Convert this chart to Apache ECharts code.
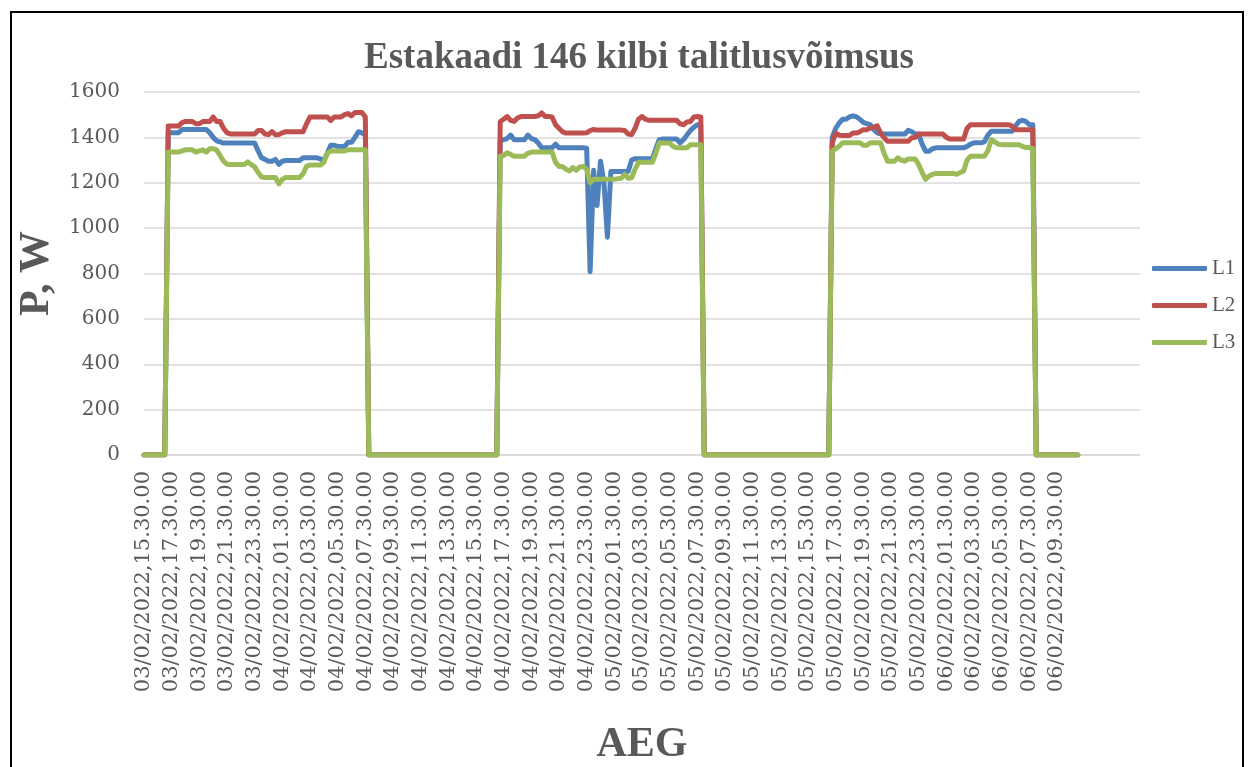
<!DOCTYPE html>
<html>
<head>
<meta charset="utf-8">
<title>Estakaadi 146 kilbi talitlusvõimsus</title>
<script src="https://cdn.jsdelivr.net/npm/echarts@6/dist/echarts.min.js"></script>
<style>
  html, body { margin: 0; padding: 0; background: #fff; }
  #chart { width: 1248px; height: 767px; }
</style>
</head>
<body>
<div id="chart"></div>
<script>
// 15 minute samples from 03/02/2022 15:30, one row per 2 hours
const L1 = [
  0, 0, 0, 0, 0, 0, 0, 1420,
  1420, 1420, 1420, 1435, 1435, 1435, 1435, 1435,
  1435, 1435, 1435, 1420, 1400, 1385, 1380, 1375,
  1375, 1375, 1375, 1375, 1375, 1375, 1375, 1375,
  1375, 1340, 1310, 1303, 1295, 1295, 1303, 1281,
  1295, 1298, 1298, 1298, 1298, 1298, 1310, 1310,
  1310, 1310, 1310, 1305, 1298, 1330, 1365, 1365,
  1360, 1360, 1360, 1378, 1378, 1400, 1425, 1420,
  1410, 0, 0, 0, 0, 0, 0, 0,
  0, 0, 0, 0, 0, 0, 0, 0,
  0, 0, 0, 0, 0, 0, 0, 0,
  0, 0, 0, 0, 0, 0, 0, 0,
  0, 0, 0, 0, 0, 0, 0, 1385,
  1390, 1395, 1410, 1390, 1390, 1390, 1390, 1410,
  1395, 1390, 1375, 1354, 1354, 1354, 1354, 1370,
  1354, 1354, 1354, 1354, 1354, 1354, 1354, 1354,
  1352, 808, 1255, 1100, 1295, 1200, 960, 1250,
  1250, 1250, 1250, 1250, 1250, 1300, 1306, 1306,
  1306, 1306, 1306, 1306, 1350, 1390, 1393, 1393,
  1393, 1393, 1393, 1376, 1390, 1410, 1430, 1445,
  1456, 1456, 0, 0, 0, 0, 0, 0,
  0, 0, 0, 0, 0, 0, 0, 0,
  0, 0, 0, 0, 0, 0, 0, 0,
  0, 0, 0, 0, 0, 0, 0, 0,
  0, 0, 0, 0, 0, 0, 0, 1400,
  1440, 1463, 1480, 1480, 1490, 1495, 1490, 1480,
  1466, 1460, 1456, 1435, 1420, 1415, 1415, 1415,
  1415, 1415, 1415, 1415, 1415, 1431, 1425, 1415,
  1415, 1370, 1339, 1339, 1350, 1354, 1354, 1354,
  1354, 1354, 1354, 1354, 1354, 1354, 1360, 1370,
  1376, 1376, 1376, 1380, 1410, 1427, 1427, 1427,
  1427, 1427, 1427, 1427, 1450, 1470, 1475, 1470,
  1456, 1456, 0, 0, 0, 0, 0, 0,
  0, 0, 0, 0, 0, 0, 0
];
const L2 = [
  0, 0, 0, 0, 0, 0, 0, 1450,
  1450, 1450, 1450, 1465, 1470, 1470, 1470, 1460,
  1460, 1470, 1470, 1470, 1490, 1470, 1470, 1440,
  1420, 1415, 1415, 1415, 1415, 1415, 1415, 1415,
  1415, 1430, 1430, 1415, 1412, 1425, 1412, 1412,
  1420, 1425, 1425, 1425, 1425, 1425, 1425, 1460,
  1490, 1490, 1490, 1490, 1490, 1490, 1475, 1490,
  1490, 1490, 1500, 1505, 1495, 1510, 1510, 1510,
  1490, 0, 0, 0, 0, 0, 0, 0,
  0, 0, 0, 0, 0, 0, 0, 0,
  0, 0, 0, 0, 0, 0, 0, 0,
  0, 0, 0, 0, 0, 0, 0, 0,
  0, 0, 0, 0, 0, 0, 0, 1470,
  1480, 1492, 1475, 1470, 1485, 1492, 1492, 1492,
  1492, 1492, 1495, 1508, 1492, 1492, 1490, 1456,
  1440, 1425, 1419, 1419, 1419, 1419, 1419, 1419,
  1420, 1430, 1435, 1432, 1432, 1432, 1432, 1432,
  1432, 1432, 1432, 1430, 1415, 1412, 1440, 1480,
  1492, 1480, 1475, 1475, 1475, 1475, 1475, 1475,
  1475, 1475, 1475, 1460, 1456, 1468, 1470, 1490,
  1492, 1490, 0, 0, 0, 0, 0, 0,
  0, 0, 0, 0, 0, 0, 0, 0,
  0, 0, 0, 0, 0, 0, 0, 0,
  0, 0, 0, 0, 0, 0, 0, 0,
  0, 0, 0, 0, 0, 0, 0, 1376,
  1419, 1410, 1408, 1408, 1408, 1419, 1419, 1425,
  1434, 1434, 1441, 1445, 1451, 1420, 1398, 1383,
  1383, 1383, 1383, 1383, 1383, 1383, 1398, 1400,
  1415, 1415, 1415, 1415, 1415, 1415, 1415, 1415,
  1400, 1393, 1393, 1393, 1393, 1393, 1440, 1456,
  1456, 1456, 1456, 1456, 1456, 1456, 1456, 1456,
  1456, 1456, 1456, 1450, 1434, 1434, 1434, 1434,
  1434, 1434, 0, 0, 0, 0, 0, 0,
  0, 0, 0, 0, 0, 0, 0
];
const L3 = [
  0, 0, 0, 0, 0, 0, 0, 1335,
  1335, 1335, 1335, 1340, 1345, 1345, 1345, 1335,
  1340, 1345, 1335, 1350, 1350, 1345, 1320, 1295,
  1282, 1280, 1280, 1280, 1280, 1280, 1292, 1280,
  1270, 1245, 1225, 1223, 1223, 1223, 1223, 1195,
  1215, 1223, 1223, 1223, 1223, 1223, 1240, 1273,
  1278, 1278, 1278, 1278, 1290, 1330, 1340, 1340,
  1340, 1340, 1340, 1345, 1345, 1345, 1345, 1345,
  1345, 0, 0, 0, 0, 0, 0, 0,
  0, 0, 0, 0, 0, 0, 0, 0,
  0, 0, 0, 0, 0, 0, 0, 0,
  0, 0, 0, 0, 0, 0, 0, 0,
  0, 0, 0, 0, 0, 0, 0, 1317,
  1320, 1332, 1325, 1317, 1317, 1317, 1317, 1330,
  1335, 1335, 1335, 1335, 1335, 1335, 1335, 1290,
  1272, 1272, 1260, 1252, 1267, 1255, 1270, 1272,
  1260, 1201, 1215, 1215, 1215, 1215, 1215, 1215,
  1215, 1218, 1220, 1237, 1220, 1222, 1260, 1290,
  1290, 1290, 1290, 1290, 1330, 1376, 1375, 1375,
  1375, 1360, 1354, 1354, 1354, 1354, 1368, 1368,
  1368, 1368, 0, 0, 0, 0, 0, 0,
  0, 0, 0, 0, 0, 0, 0, 0,
  0, 0, 0, 0, 0, 0, 0, 0,
  0, 0, 0, 0, 0, 0, 0, 0,
  0, 0, 0, 0, 0, 0, 0, 1340,
  1350, 1361, 1376, 1376, 1376, 1376, 1376, 1376,
  1365, 1365, 1376, 1376, 1376, 1376, 1330, 1295,
  1295, 1295, 1310, 1300, 1295, 1305, 1305, 1305,
  1280, 1245, 1215, 1230, 1237, 1241, 1241, 1241,
  1241, 1241, 1241, 1237, 1245, 1252, 1300, 1317,
  1317, 1317, 1317, 1317, 1340, 1390, 1380, 1370,
  1368, 1368, 1368, 1368, 1368, 1368, 1360, 1355,
  1355, 1350, 0, 0, 0, 0, 0, 0,
  0, 0, 0, 0, 0, 0, 0
];

// category axis: timestamps for the sampled rows, then empty rows up to the axis end
const CATEGORY_COUNT = 289;
const START = Date.UTC(2022, 1, 3, 15, 30, 0);
const STEP_MIN = 15;
const pad = (n) => String(n).padStart(2, "0");
const categories = [];
for (let i = 0; i < CATEGORY_COUNT; i++) {
  if (i >= L1.length) { categories.push(""); continue; }
  const d = new Date(START + i * STEP_MIN * 60000);
  categories.push(
    pad(d.getUTCDate()) + "/" + pad(d.getUTCMonth() + 1) + "/" + d.getUTCFullYear() +
    "," + pad(d.getUTCHours()) + "." + pad(d.getUTCMinutes()) + "." + pad(d.getUTCSeconds())
  );
}

const textGrey = "#595959";
const gridGrey = "#D9D9D9";
const lineSeries = (name, data, color) => ({
  name: name,
  type: "line",
  data: data,
  symbol: "none",
  smooth: false,
  color: color,
  lineStyle: { width: 5, color: color, cap: "round", join: "round" },
});

const chart = echarts.init(document.getElementById("chart"));
chart.setOption({
  animation: false,
  backgroundColor: "#fff",
  title: {
    text: "Estakaadi 146 kilbi talitlusvõimsus",
    left: 634,
    top: 35,
    textAlign: "center",
    textStyle: { fontFamily: "Liberation Serif", fontWeight: "bold", fontSize: 37, color: textGrey },
  },
  legend: {
    orient: "vertical",
    left: 1152,
    top: 258,
    padding: 0,
    icon: "roundRect",
    itemWidth: 55,
    itemHeight: 5,
    itemGap: 16,
    textStyle: { fontFamily: "Liberation Serif", fontSize: 21, color: textGrey },
    data: ["L1", "L2", "L3"],
  },
  grid: { left: 144, right: 108, top: 92, bottom: 309 },
  xAxis: {
    type: "category",
    boundaryGap: false,
    data: categories,
    name: "AEG",
    nameLocation: "middle",
    nameGap: 269,
    nameTextStyle: { fontFamily: "Liberation Serif", fontWeight: "bold", fontSize: 42, color: textGrey },
    axisLine: { lineStyle: { color: gridGrey, width: 1.5 } },
    axisTick: { show: false },
    axisLabel: {
      interval: 7,
      rotate: 90,
      margin: 16,
      fontFamily: "DejaVu Serif",
      fontSize: 21,
      color: textGrey,
    },
  },
  yAxis: {
    type: "value",
    min: 0,
    max: 1600,
    interval: 200,
    name: "P, W",
    nameLocation: "middle",
    nameRotate: 90,
    nameGap: 70,
    nameTextStyle: { fontFamily: "Liberation Serif", fontWeight: "bold", fontSize: 42, color: textGrey },
    axisLine: { show: false },
    axisTick: { show: false },
    axisLabel: {
      margin: 24,
      fontFamily: "DejaVu Serif",
      fontSize: 20,
      color: textGrey,
      formatter: (v) => String(v),
    },
    splitLine: { lineStyle: { color: gridGrey, width: 1.5 } },
  },
  graphic: [
    {
      type: "rect",
      silent: true,
      shape: { x: 11, y: 12, width: 1232, height: 800 },
      style: { fill: "none", stroke: "#000", lineWidth: 2 },
    },
  ],
  series: [
    lineSeries("L1", L1, "#4F81BD"),
    lineSeries("L2", L2, "#C0504D"),
    lineSeries("L3", L3, "#9BBB59"),
  ],
});
</script>
</body>
</html>
